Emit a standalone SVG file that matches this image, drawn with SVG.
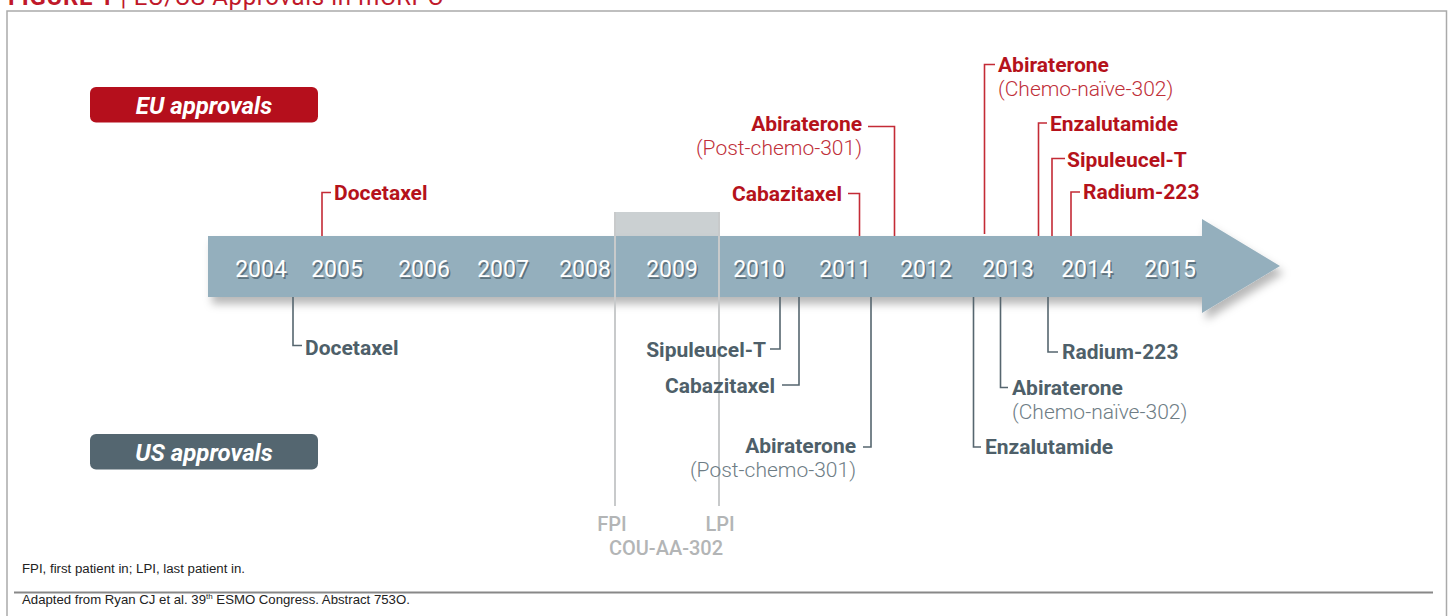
<svg xmlns="http://www.w3.org/2000/svg" width="1448" height="616" viewBox="0 0 1448 616">
<style>
text{font-family:Roboto,"Liberation Sans",sans-serif}
.eu{fill:#b5121b;font-size:21px;font-weight:700}
.eus{fill:#c0303a;font-size:21px;font-weight:300}
.us{fill:#4e5f69;font-size:21px;font-weight:700}
.uss{fill:#6e7d85;font-size:21px;font-weight:300}
.yr{fill:#fff;font-size:23px;text-anchor:middle}
.yrs{fill:#5f7480;font-size:23px;text-anchor:middle}
.ceu{fill:none;stroke:#c42b36;stroke-width:1.6}
.cus{fill:none;stroke:#56666f;stroke-width:1.6}
.trial{fill:#b3b5b6;font-size:20px;font-weight:500;text-anchor:middle}
.foot{fill:#222;font-family:"Liberation Sans",Arial,sans-serif}
.badge{fill:#fff;font-size:24px;font-weight:700;font-style:italic;text-anchor:middle}
</style>
<defs>
<filter id="sh" x="-5%" y="-30%" width="115%" height="170%">
<feDropShadow dx="4" dy="7" stdDeviation="4" flood-color="#000" flood-opacity="0.28"/>
</filter>
</defs>
<rect width="1448" height="616" fill="#fff"/>
<text x="8" y="5" fill="#c0182a" font-size="24" textLength="435" style="font-family:Roboto,sans-serif"><tspan font-weight="700">FIGURE 1</tspan> | EU/US Approvals in mCRPC</text>
<rect x="7" y="11" width="1439.5" height="640" fill="none" stroke="#aaa" stroke-width="1.5"/>

<g id="timeline">
<rect x="614" y="212" width="106" height="26" fill="#cbd0d2"/>
<path d="M208,236 H1202 V219 L1280,266 L1202,313 V297 H208 Z" fill="#94afbd" filter="url(#sh)"/>
<line x1="615" y1="212" x2="615" y2="506" stroke="#c8cacb" stroke-width="2"/>
<line x1="719" y1="212" x2="719" y2="506" stroke="#c8cacb" stroke-width="2"/>
<g id="years">
<text class="yrs" x="262.5" y="278.5">2004</text><text class="yr" x="261" y="277">2004</text>
<text class="yrs" x="338.5" y="278.5">2005</text><text class="yr" x="337" y="277">2005</text>
<text class="yrs" x="425.5" y="278.5">2006</text><text class="yr" x="424" y="277">2006</text>
<text class="yrs" x="504.5" y="278.5">2007</text><text class="yr" x="503" y="277">2007</text>
<text class="yrs" x="586.5" y="278.5">2008</text><text class="yr" x="585" y="277">2008</text>
<text class="yrs" x="673.5" y="278.5">2009</text><text class="yr" x="672" y="277">2009</text>
<text class="yrs" x="760.5" y="278.5">2010</text><text class="yr" x="759" y="277">2010</text>
<text class="yrs" x="846.5" y="278.5">2011</text><text class="yr" x="845" y="277">2011</text>
<text class="yrs" x="927.5" y="278.5">2012</text><text class="yr" x="926" y="277">2012</text>
<text class="yrs" x="1009.5" y="278.5">2013</text><text class="yr" x="1008" y="277">2013</text>
<text class="yrs" x="1088.5" y="278.5">2014</text><text class="yr" x="1087" y="277">2014</text>
<text class="yrs" x="1171.5" y="278.5">2015</text><text class="yr" x="1170" y="277">2015</text>
</g>
</g>

<g id="eu-badge">
<rect x="90" y="87" width="228" height="35.5" rx="6" fill="#b50f1c"/>
<text class="badge" x="204" y="114">EU approvals</text>
</g>
<g id="us-badge">
<rect x="90" y="434" width="228" height="35.5" rx="6" fill="#546670"/>
<text class="badge" x="204" y="461">US approvals</text>
</g>

<g id="connectors">
<path class="ceu" d="M331,192.5 H322 V236"/>
<path class="ceu" d="M848,193.5 H859.5 V236"/>
<path class="ceu" d="M868,126.5 H894.5 V236"/>
<path class="ceu" d="M995,64.5 H984.5 V234"/>
<path class="ceu" d="M1047,123 H1038.5 V236"/>
<path class="ceu" d="M1065,158.5 H1052 V236"/>
<path class="ceu" d="M1080,192 H1071 V236"/>
<path class="cus" d="M293,297 V345.5 H302"/>
<path class="cus" d="M780,297 V349 H770"/>
<path class="cus" d="M799,297 V385 H782"/>
<path class="cus" d="M871,297 V447 H863"/>
<path class="cus" d="M973.5,297 V447 H981"/>
<path class="cus" d="M1000.5,297 V387.5 H1008"/>
<path class="cus" d="M1048,297 V352 H1058"/>
</g>

<g id="eu-docetaxel"><text class="eu" x="334" y="200">Docetaxel</text></g>
<g id="eu-cabazitaxel"><text class="eu" x="842" y="201" text-anchor="end">Cabazitaxel</text></g>
<g id="eu-abiraterone-301"><text class="eu" x="862" y="131" text-anchor="end">Abiraterone</text><text class="eus" x="862" y="155" text-anchor="end">(Post-chemo-301)</text></g>
<g id="eu-abiraterone-302"><text class="eu" x="998" y="72">Abiraterone</text><text class="eus" x="998" y="96">(Chemo-naïve-302)</text></g>
<g id="eu-enzalutamide"><text class="eu" x="1050" y="131">Enzalutamide</text></g>
<g id="eu-sipuleucel"><text class="eu" x="1067" y="167">Sipuleucel-T</text></g>
<g id="eu-radium"><text class="eu" x="1083" y="199">Radium-223</text></g>

<g id="us-docetaxel"><text class="us" x="305" y="355">Docetaxel</text></g>
<g id="us-sipuleucel"><text class="us" x="766" y="357" text-anchor="end">Sipuleucel-T</text></g>
<g id="us-cabazitaxel"><text class="us" x="775" y="393" text-anchor="end">Cabazitaxel</text></g>
<g id="us-abiraterone-301"><text class="us" x="856" y="453" text-anchor="end">Abiraterone</text><text class="uss" x="856" y="477" text-anchor="end">(Post-chemo-301)</text></g>
<g id="us-radium"><text class="us" x="1062" y="359">Radium-223</text></g>
<g id="us-abiraterone-302"><text class="us" x="1012" y="395">Abiraterone</text><text class="uss" x="1012" y="419">(Chemo-naïve-302)</text></g>
<g id="us-enzalutamide"><text class="us" x="985" y="454">Enzalutamide</text></g>

<g id="trial">
<text class="trial" x="612" y="531">FPI</text>
<text class="trial" x="720" y="531">LPI</text>
<text class="trial" x="666" y="555">COU-AA-302</text>
</g>

<g id="footer">
<text class="foot" x="22" y="573" font-size="12" textLength="223" lengthAdjust="spacingAndGlyphs">FPI, first patient in; LPI, last patient in.</text>
<line x1="14" y1="592.5" x2="1433" y2="592.5" stroke="#888" stroke-width="2"/>
<text class="foot" x="22" y="604" font-size="13.2">Adapted from Ryan CJ et al. 39<tspan font-size="8" dy="-5">th</tspan><tspan dy="5"> ESMO Congress. Abstract 753O.</tspan></text>
</g>
</svg>
